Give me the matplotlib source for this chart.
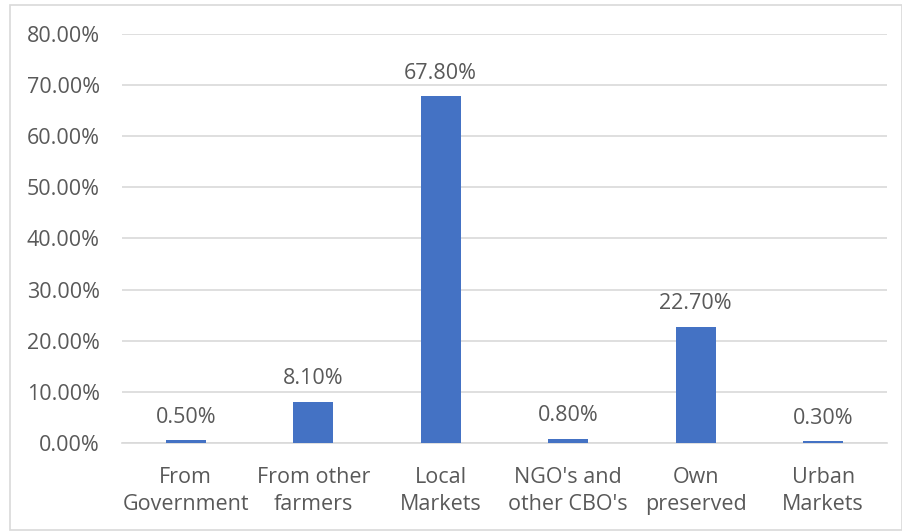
import matplotlib
matplotlib.use("Agg")
import matplotlib.pyplot as plt
from matplotlib.patches import Rectangle
from matplotlib.ticker import FuncFormatter, MultipleLocator

categories = ["From\nGovernment", "From other\nfarmers", "Local\nMarkets",
              "NGO's and\nother CBO's", "Own\npreserved", "Urban\nMarkets"]
values = [0.50, 8.10, 67.80, 0.80, 22.70, 0.30]

plt.rcParams["font.family"] = ["Open Sans", "DejaVu Sans"]
text_color = "#595959"
grid_color = "#D9D9D9"
bar_color = "#4472C4"
fs = 15.5

fig = plt.figure(figsize=(9.03, 5.31), dpi=100)
ax = fig.add_axes([122 / 903, 1 - 443 / 531, 765 / 903, 409 / 531])

x = list(range(len(categories)))
ax.bar(x, values, width=0.31, color=bar_color, zorder=3)
for xi, v in zip(x, values):
    ax.annotate(f"{v:.2f}%", (xi, v), xytext=(0, 9), textcoords="offset points",
                ha="center", va="bottom", fontsize=fs, color=text_color)

ax.set_xlim(-0.5, len(categories) - 0.5)
ax.set_ylim(0, 80)
ax.yaxis.set_major_locator(MultipleLocator(10))
ax.yaxis.set_major_formatter(FuncFormatter(lambda v, p: f"{v:.2f}%"))
ax.grid(axis="y", color=grid_color, linewidth=1.2, zorder=0)
ax.set_xticks(x)
ax.set_xticklabels(categories, fontsize=fs, color=text_color, linespacing=1.4)
ax.tick_params(axis="y", labelsize=fs, labelcolor=text_color, length=0, pad=16)
ax.tick_params(axis="x", length=0, pad=17)
for s in ["top", "right", "left"]:
    ax.spines[s].set_visible(False)
ax.spines["bottom"].set_color(grid_color)
ax.spines["bottom"].set_linewidth(1.2)

fig.patches.append(Rectangle((10 / 903, 0.002), 892 / 903, 1 - 5 / 531 - 0.002,
                             transform=fig.transFigure, fill=False,
                             edgecolor="#D9D9D9", linewidth=1.2))

fig.savefig("out.png", dpi=100)
